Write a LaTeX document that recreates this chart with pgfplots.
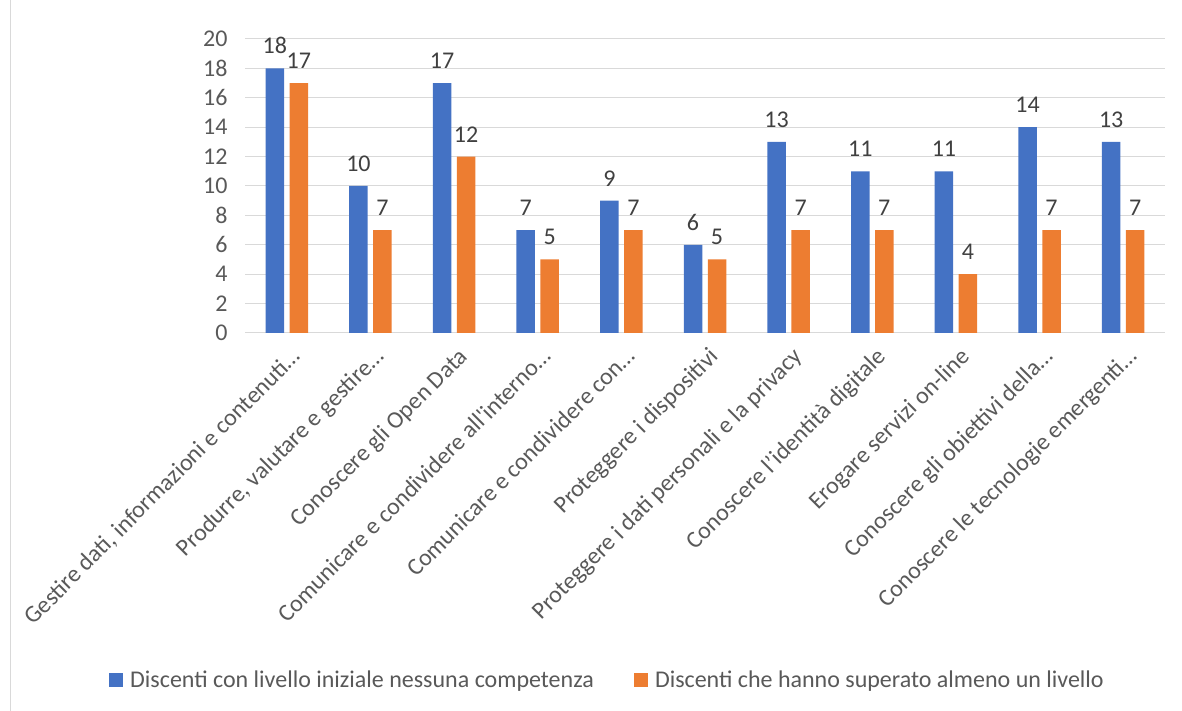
\documentclass[border=0pt]{standalone}
\usepackage{pgfplots}
\pgfplotsset{compat=1.18}
\usepackage{fontspec}
\setmainfont{Carlito}[Ligatures=TeXOff]
\definecolor{cblue}{HTML}{4472C4}
\definecolor{corange}{HTML}{ED7D31}
\definecolor{cgrid}{HTML}{D9D9D9}
\definecolor{ctick}{HTML}{595959}
\definecolor{clab}{HTML}{404040}
\begin{document}
\begin{tikzpicture}
\begin{axis}[
  at={(245pt,378pt)}, anchor=south west,
  width=920pt, height=294pt, scale only axis,
  ymin=0, ymax=20, ytick={0,2,...,20},
  xmin=-0.5, xmax=10.5,
  xtick={0,...,10},
  xticklabels={{Gestire dati, informazioni e contenuti…},{Produrre, valutare e gestire…},{Conoscere gli Open Data},{Comunicare e condividere all'interno…},{Comunicare e condividere con…},{Proteggere i dispositivi},{Proteggere i dati personali e la privacy},{Conoscere l’identità digitale},{Erogare servizi on-line},{Conoscere gli obiettivi della…},{Conoscere le tecnologie emergenti…}},
  axis line style={draw=none},
  ymajorgrids, grid style={cgrid, line width=1pt},
  major tick length=0pt,
  ybar, bar width=18.5pt,
  tick label style={font=\fontsize{24}{29}\selectfont, text=ctick},
  /pgf/number format/assume math mode=true,
  xticklabel style={inner sep=0pt, xshift=3pt, yshift=-13pt, rotate=45, anchor=north east},
  yticklabel style={xshift=-14pt},
  nodes near coords,
  every node near coord/.append style={font=\fontsize{24}{29}\selectfont, text=clab, yshift=11pt},
  legend columns=2,
  legend style={at={(0.394,-1.18)}, anchor=center, draw=none, font=\fontsize{24}{29}\selectfont, text=ctick,
    /tikz/every even column/.append style={column sep=38pt}},
  legend image code/.code={\fill[#1] (0pt,-7pt) rectangle (14pt,7pt); \path (19pt,0pt);},
  clip=false,
]
\addplot[fill=cblue, draw=none, bar shift=-12pt] coordinates {(0,18) (1,10) (2,17) (3,7) (4,9) (5,6) (6,13) (7,11) (8,11) (9,14) (10,13)};
\addplot[fill=corange, draw=none, bar shift=12pt] coordinates {(0,17) (1,7) (2,12) (3,5) (4,7) (5,5) (6,7) (7,7) (8,4) (9,7) (10,7)};
\legend{Discenti con livello iniziale nessuna competenza, Discenti che hanno superato almeno un livello}
\end{axis}
\draw[cgrid, line width=1.5pt] (10.5pt,0pt) -- (10.5pt,711pt);
\pgfresetboundingbox
\useasboundingbox (0pt,0pt) rectangle (1182pt,711pt);
\end{tikzpicture}
\end{document}
